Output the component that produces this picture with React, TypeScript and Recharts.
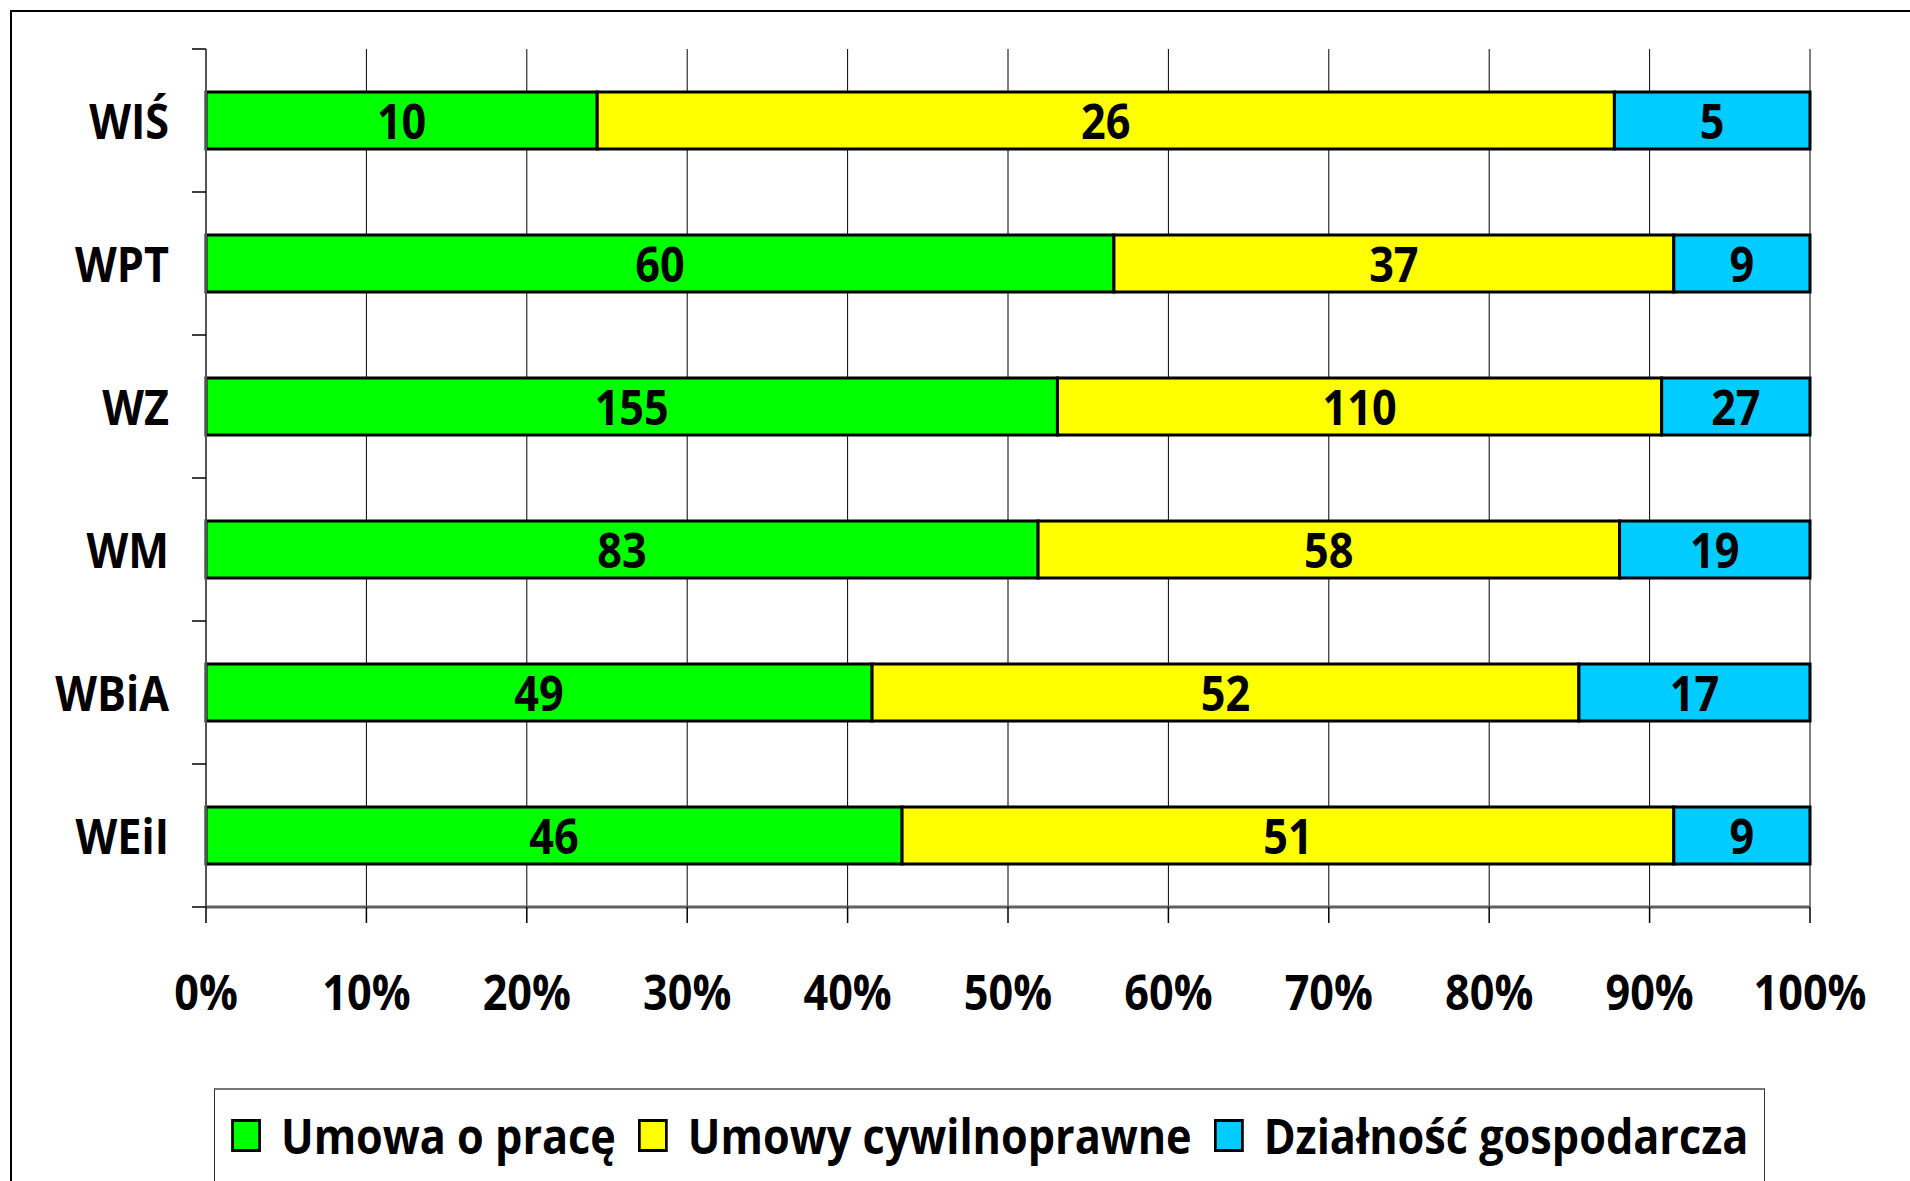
import React from "react";
import {
  BarChart,
  Bar,
  XAxis,
  YAxis,
  CartesianGrid,
  LabelList,
} from "recharts";

const categories = ["WIŚ", "WPT", "WZ", "WM", "WBiA", "WEiI"];
const umowaOPrace = [10, 60, 155, 83, 49, 46];
const umowyCywilnoprawne = [26, 37, 110, 58, 52, 51];
const dzialalnosc = [5, 9, 27, 19, 17, 9];
const xTicks = [0, 0.1, 0.2, 0.3, 0.4, 0.5, 0.6, 0.7, 0.8, 0.9, 1];

const seriesNames = ["Umowa o pracę", "Umowy cywilnoprawne", "Działność gospodarcza"];
const seriesColors = ["#00FF00", "#FFFF00", "#00CCFF"];

const data = categories.map((name, i) => ({
  name,
  umowa: umowaOPrace[i],
  cywilne: umowyCywilnoprawne[i],
  dzialalnosc: dzialalnosc[i],
}));

const FONT = "'Open Sans', 'Noto Sans', sans-serif";
const FS = 48;
const SX = 0.9; // horizontal squeeze to mimic a narrow font

const W = 1910;
const H = 1181;
const PLOT_TOP = 49;
const PLOT_LEFT = 206;
const PLOT_RIGHT = 1810;
const PLOT_BOTTOM = 907;
const X_AXIS_H = 150;
const BAND = (PLOT_BOTTOM - PLOT_TOP) / categories.length;

function NarrowText({ x, y, anchor, dy, children }: any) {
  return (
    <text
      transform={`translate(${x} ${y}) scale(${SX} 1)`}
      x={0}
      y={0}
      dy={dy}
      textAnchor={anchor}
      fontSize={FS}
      fontWeight="bold"
      fontFamily={FONT}
      fill="#000"
    >
      {children}
    </text>
  );
}

function CategoryTick(props: any) {
  const { y, payload, index } = props;
  const top = y - BAND / 2;
  return (
    <g>
      <line x1={PLOT_LEFT - 14} x2={PLOT_LEFT} y1={top} y2={top} stroke="#000" strokeWidth={1.5} />
      {index === categories.length - 1 && (
        <line x1={PLOT_LEFT - 14} x2={PLOT_LEFT} y1={top + BAND} y2={top + BAND} stroke="#000" strokeWidth={1.5} />
      )}
      <NarrowText x={PLOT_LEFT - 37} y={y} anchor="end" dy="0.38em">
        {payload.value}
      </NarrowText>
    </g>
  );
}

function PercentTick(props: any) {
  const { x, y, payload } = props;
  return (
    <NarrowText x={x} y={y} anchor="middle" dy="0.71em">
      {`${Math.round(payload.value * 100)}%`}
    </NarrowText>
  );
}

function valueLabel(props: any) {
  const { x, y, width, height, value } = props;
  return (
    <NarrowText x={x + width / 2} y={y + height / 2} anchor="middle" dy="0.38em">
      {value}
    </NarrowText>
  );
}

function LegendBox() {
  return (
    <div
      style={{
        position: "absolute",
        left: 214,
        top: 1088,
        width: 1551,
        height: 93,
        boxSizing: "border-box",
        borderTop: "2px solid #777",
        borderLeft: "1.5px solid #333",
        borderRight: "1.5px solid #333",
        overflow: "hidden",
      }}
    >
      <div
        style={{
          display: "flex",
          alignItems: "center",
          height: "100%",
          transform: `scaleX(${SX})`,
          transformOrigin: "0 50%",
          paddingLeft: 16 / SX,
          fontFamily: FONT,
          fontWeight: "bold",
          fontSize: FS,
          whiteSpace: "nowrap",
        }}
      >
        {seriesNames.map((n, i) => (
          <div key={n} style={{ display: "flex", alignItems: "center", marginRight: 22 / SX }}>
            <span
              style={{
                display: "inline-block",
                width: 30 / SX,
                height: 33,
                boxSizing: "border-box",
                border: "3px solid #000",
                borderLeftWidth: 3 / SX,
                borderRightWidth: 3 / SX,
                background: seriesColors[i],
                marginRight: 20 / SX,
              }}
            />
            <span>{n}</span>
          </div>
        ))}
      </div>
    </div>
  );
}

export default function App() {
  return (
    <div style={{ position: "absolute", left: 0, top: 0, width: W, height: H, background: "#fff", overflow: "hidden" }}>
      <div
        style={{
          position: "absolute",
          left: 10,
          top: 10,
          width: W,
          height: H,
          borderTop: "2px solid #000",
          borderLeft: "2px solid #000",
        }}
      />
      <div style={{ position: "absolute", left: 0, top: 0 }}>
        <BarChart
          width={W}
          height={H}
          data={data}
          layout="vertical"
          stackOffset="expand"
          barSize={57}
          margin={{ top: PLOT_TOP, left: 0, right: W - PLOT_RIGHT, bottom: H - PLOT_BOTTOM - X_AXIS_H }}
        >
          <CartesianGrid horizontal={false} stroke="#000" strokeWidth={1} />
          <XAxis
            type="number"
            domain={[0, 1]}
            ticks={xTicks}
            height={X_AXIS_H}
            tickSize={16}
            tickMargin={53}
            tickLine={{ stroke: "#000", strokeWidth: 1.5 }}
            axisLine={{ stroke: "#606060", strokeWidth: 3 }}
            tick={<PercentTick />}
            interval={0}
          />
          <XAxis
            xAxisId="top"
            orientation="top"
            type="number"
            domain={[0, 1]}
            height={0}
            tick={false}
            tickLine={false}
            axisLine={{ stroke: "#888", strokeWidth: 3 }}
          />
          <YAxis
            type="category"
            dataKey="name"
            width={PLOT_LEFT}
            tickLine={false}
            axisLine={{ stroke: "#555", strokeWidth: 2 }}
            tick={<CategoryTick />}
            interval={0}
          />
          <YAxis
            yAxisId="r"
            orientation="right"
            type="category"
            dataKey="name"
            width={0}
            tick={false}
            tickLine={false}
            axisLine={{ stroke: "#888", strokeWidth: 3 }}
          />
          <Bar dataKey="umowa" stackId="a" fill={seriesColors[0]} stroke="#000" strokeWidth={3} isAnimationActive={false}>
            <LabelList dataKey="umowa" content={valueLabel} />
          </Bar>
          <Bar dataKey="cywilne" stackId="a" fill={seriesColors[1]} stroke="#000" strokeWidth={3} isAnimationActive={false}>
            <LabelList dataKey="cywilne" content={valueLabel} />
          </Bar>
          <Bar dataKey="dzialalnosc" stackId="a" fill={seriesColors[2]} stroke="#000" strokeWidth={3} isAnimationActive={false}>
            <LabelList dataKey="dzialalnosc" content={valueLabel} />
          </Bar>
        </BarChart>
      </div>
      <LegendBox />
    </div>
  );
}
